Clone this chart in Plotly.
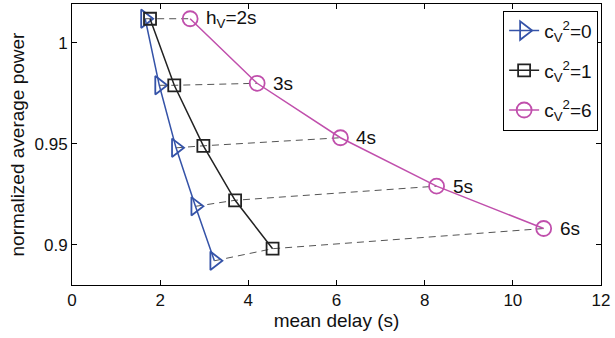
import plotly.graph_objects as go

h_labels = ["h<sub>V</sub>=2s", "3s", "4s", "5s", "6s"]
delay_c0 = [1.66, 1.98, 2.36, 2.80, 3.23]
power_c0 = [1.012, 0.979, 0.948, 0.919, 0.892]
delay_c1 = [1.77, 2.32, 2.98, 3.70, 4.55]
power_c1 = [1.012, 0.979, 0.949, 0.922, 0.898]
delay_c6 = [2.68, 4.20, 6.09, 8.27, 10.70]
power_c6 = [1.012, 0.980, 0.953, 0.929, 0.908]
x_ticks = [0, 2, 4, 6, 8, 10, 12]
y_ticks = [0.9, 0.95, 1.0]
y_tick_text = ["0.9", "0.95", "1"]

BLUE = "#3553a8"
BLACK = "#222222"
MAGENTA = "#c04fac"
FONT = "Liberation Sans, Arial, sans-serif"

fig = go.Figure()

# dashed connectors for each h_V level
for i in range(len(h_labels)):
    fig.add_trace(go.Scatter(
        x=[delay_c0[i], delay_c1[i], delay_c6[i]],
        y=[power_c0[i], power_c1[i], power_c6[i]],
        mode="lines", line=dict(color="#555555", width=1, dash="7px,5px"),
        showlegend=False, hoverinfo="skip"))

series = [
    (delay_c0, power_c0, BLUE, "triangle-right-open", 16, "c<sub>V</sub><sup>2</sup>=0", "a"),
    (delay_c1, power_c1, BLACK, "square-open", 12, "c<sub>V</sub><sup>2</sup>=1", "b"),
    (delay_c6, power_c6, MAGENTA, "circle-open", 15, "c<sub>V</sub><sup>2</sup>=6", "c"),
]
for xs, ys, col, sym, sz, name, grp in series:
    fig.add_trace(go.Scatter(
        x=xs, y=ys, mode="lines+markers", name=name, legendgroup=grp,
        line=dict(color=col, width=1.5),
        marker=dict(symbol=sym, size=sz, color=col, line=dict(color=col, width=1.8))))

for i, lab in enumerate(h_labels):
    fig.add_annotation(x=delay_c6[i], y=power_c6[i], text=lab, showarrow=False,
                       xanchor="left", yanchor="middle", xshift=14,
                       font=dict(family=FONT, size=19, color="#111111"))

axis_common = dict(showline=True, linecolor="black", linewidth=1, mirror="ticks",
                   ticks="inside", ticklen=5, tickcolor="black", showgrid=False,
                   zeroline=False, tickfont=dict(family=FONT, size=17, color="#111111"))

fig.update_layout(
    width=615, height=338,
    margin=dict(l=72, r=14, t=4, b=53),
    paper_bgcolor="white", plot_bgcolor="white",
    font=dict(family=FONT, color="#111111"),
    xaxis=dict(range=[0, 12], tickvals=x_ticks,
               title=dict(text="mean delay (s)", font=dict(family=FONT, size=19), standoff=0),
               **axis_common),
    yaxis=dict(range=[0.880, 1.0193], tickvals=y_ticks, ticktext=y_tick_text,
               title=dict(text="normalized average power", font=dict(family=FONT, size=19), standoff=4),
               **axis_common),
    legend=dict(x=0.815, y=0.976, xanchor="left", yanchor="top",
                bordercolor="black", borderwidth=1, bgcolor="white",
                font=dict(family=FONT, size=19), tracegroupgap=12),
    showlegend=True,
)

fig.write_html("out.html")
